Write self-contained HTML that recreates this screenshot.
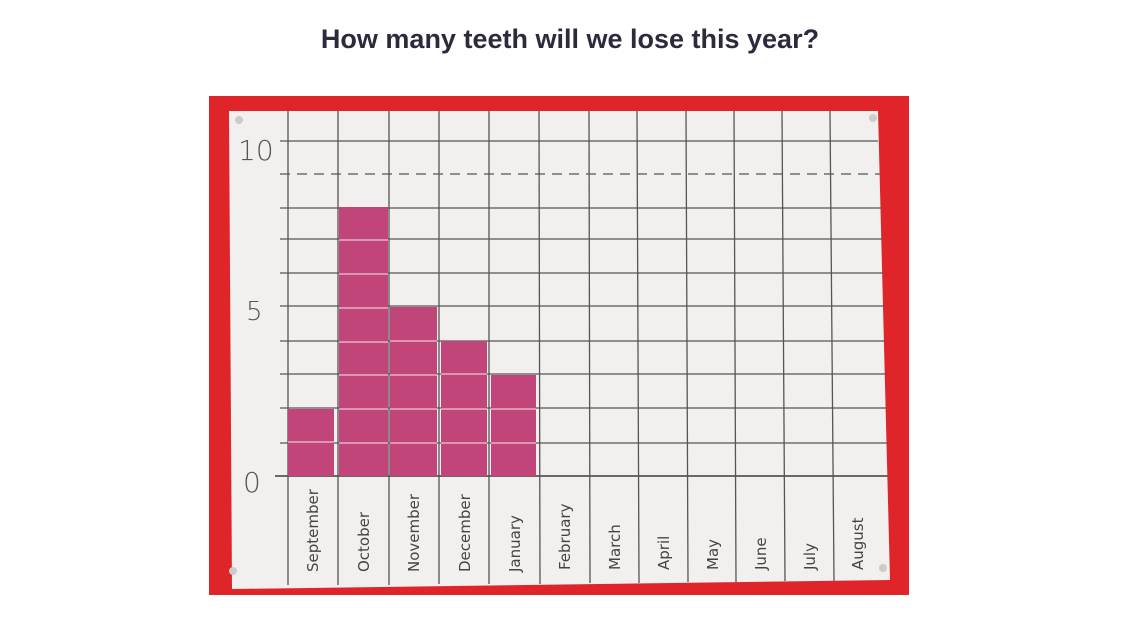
<!DOCTYPE html>
<html><head><meta charset="utf-8"><style>
body{margin:0;width:1140px;height:626px;background:#fff;overflow:hidden;font-family:"Liberation Sans",sans-serif}
h1{position:absolute;top:24px;left:0;width:1140px;text-align:center;margin:0;font-size:27px;font-weight:bold;color:#2b2b3d}
svg{position:absolute;left:0;top:0}
</style></head><body>
<h1>How many teeth will we lose this year?</h1>
<svg width="1140" height="626">
<rect x="209" y="96" width="700" height="499" fill="#e0252a"/>
<polygon points="229,111 878,111 890,580 232,589" fill="#f1f0ee"/>
<g stroke="#555" stroke-width="1.3">
<line x1="280" y1="141" x2="878" y2="141"/>
<line x1="280" y1="174" x2="880" y2="174" stroke-dasharray="10,7"/>
<line x1="280" y1="208" x2="881" y2="208"/>
<line x1="280" y1="239" x2="882" y2="239"/>
<line x1="280" y1="273" x2="883" y2="273"/>
<line x1="280" y1="306" x2="884" y2="306"/>
<line x1="280" y1="341" x2="885" y2="341"/>
<line x1="280" y1="374" x2="886" y2="374"/>
<line x1="280" y1="408" x2="887" y2="408"/>
<line x1="280" y1="443" x2="888" y2="443"/>
<line x1="275" y1="476" x2="889" y2="476" stroke-width="1.8"/>
<line x1="288" y1="111" x2="288" y2="585"/>
<line x1="338" y1="111" x2="338" y2="585"/>
<line x1="389" y1="111" x2="389" y2="585"/>
<line x1="439" y1="111" x2="439" y2="584"/>
<line x1="489" y1="111" x2="489" y2="584"/>
<line x1="539" y1="111" x2="540" y2="584"/>
<line x1="589" y1="111" x2="590" y2="583"/>
<line x1="637" y1="111" x2="639" y2="583"/>
<line x1="686" y1="111" x2="688" y2="582"/>
<line x1="734" y1="111" x2="736" y2="582"/>
<line x1="782" y1="111" x2="785" y2="581"/>
<line x1="830" y1="111" x2="834" y2="581"/>
</g>
<g fill="#c2457a">
<rect x="288" y="409" width="46" height="67"/>
<rect x="339" y="207" width="49" height="269"/>
<rect x="390" y="307" width="47" height="169"/>
<rect x="441" y="341" width="46" height="135"/>
<rect x="491" y="375" width="45" height="101"/>
</g>
<g stroke="#e8c8d4" stroke-width="1.2">
<line x1="288" y1="442" x2="334" y2="442"/>
<line x1="339" y1="240" x2="388" y2="240"/><line x1="339" y1="274" x2="388" y2="274"/><line x1="339" y1="308" x2="388" y2="308"/><line x1="339" y1="342" x2="388" y2="342"/><line x1="339" y1="375" x2="388" y2="375"/><line x1="339" y1="409" x2="388" y2="409"/><line x1="339" y1="443" x2="388" y2="443"/>
<line x1="390" y1="341" x2="437" y2="341"/><line x1="390" y1="375" x2="437" y2="375"/><line x1="390" y1="409" x2="437" y2="409"/><line x1="390" y1="443" x2="437" y2="443"/>
<line x1="441" y1="374" x2="487" y2="374"/><line x1="441" y1="409" x2="487" y2="409"/><line x1="441" y1="443" x2="487" y2="443"/>
<line x1="491" y1="409" x2="536" y2="409"/><line x1="491" y1="443" x2="536" y2="443"/>
</g>
<g font-family="DejaVu Sans" font-weight="200" fill="#555">
<text x="238" y="160" font-size="28">10</text>
<text x="246" y="320" font-size="26">5</text>
<text x="243" y="492" font-size="28">0</text>
</g>
<g font-family="DejaVu Sans" font-size="15" fill="#444">
<text transform="translate(318,572) rotate(-90)">September</text>
<text transform="translate(369,572) rotate(-90)">October</text>
<text transform="translate(419,572) rotate(-90)">November</text>
<text transform="translate(470,572) rotate(-90)">December</text>
<text transform="translate(520,572) rotate(-90)">January</text>
<text transform="translate(570,570) rotate(-90)">February</text>
<text transform="translate(620,570) rotate(-90)">March</text>
<text transform="translate(669,570) rotate(-90)">April</text>
<text transform="translate(718,570) rotate(-90)">May</text>
<text transform="translate(766,570) rotate(-90)">June</text>
<text transform="translate(815,570) rotate(-90)">July</text>
<text transform="translate(863,570) rotate(-90)">August</text>
</g>
<g fill="#ccc"><circle cx="239" cy="120" r="4"/><circle cx="873" cy="118" r="4"/><circle cx="233" cy="571" r="4"/><circle cx="883" cy="568" r="4"/></g>
</svg>
</body></html>
